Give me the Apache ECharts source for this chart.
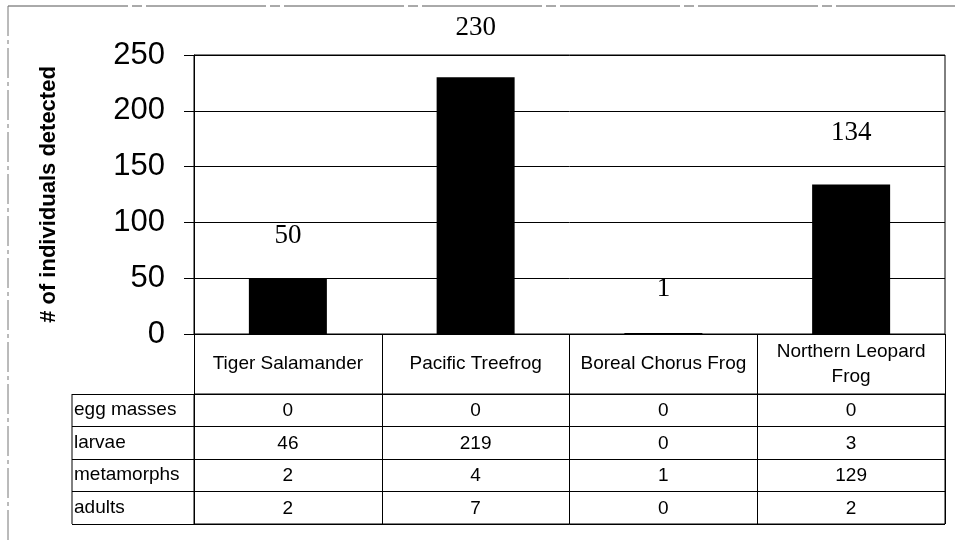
<!DOCTYPE html>
<html>
<head>
<meta charset="utf-8">
<script src="https://cdn.jsdelivr.net/npm/echarts@6/dist/echarts.min.js"></script>
<style>html,body{margin:0;padding:0;background:#fff}#c{width:955px;height:544px}</style>
</head>
<body>
<div id="c"></div>
<script>
const categories = ['Tiger Salamander', 'Pacific Treefrog', 'Boreal Chorus Frog', 'Northern Leopard\nFrog'];
const totals = [50, 230, 1, 134];
const rowNames = ['egg masses', 'larvae', 'metamorphs', 'adults'];
const eggMasses = [0, 0, 0, 0];
const larvae = [46, 219, 0, 3];
const metamorphs = [2, 4, 1, 129];
const adults = [2, 7, 0, 2];
const yMin = 0, yMax = 250, yStep = 50;
const labelGaps = [29, 36, 30, 38];

const tableRows = [eggMasses, larvae, metamorphs, adults];
const cells = [];
tableRows.forEach((row, r) => row.forEach((v, c) => cells.push([c, r, v])));

const chart = echarts.init(document.getElementById('c'), null, {renderer: 'canvas'});
chart.setOption({
  backgroundColor: '#fff',
  animation: false,
  grid: [
    {left: 194, right: 10, top: 55, height: 279, show: true, borderColor: '#000', borderWidth: 1},
    {left: 194, right: 10, top: 394, height: 130, show: true, borderColor: '#000', borderWidth: 1}
  ],
  xAxis: [
    {
      type: 'category', gridIndex: 0, data: categories,
      axisLine: {show: true, lineStyle: {color: '#000', width: 1}},
      axisTick: {show: true, length: 60, inside: false, lineStyle: {color: '#000'}},
      axisLabel: {color: '#000', fontFamily: 'Arial, Liberation Sans', fontSize: 19, margin: 30,
        verticalAlign: 'middle', lineHeight: 25, interval: 0},
      splitLine: {show: false}
    },
    {
      type: 'category', gridIndex: 1, data: categories, position: 'top',
      axisLine: {show: false}, axisTick: {show: false}, axisLabel: {show: false},
      splitLine: {show: true, lineStyle: {color: '#000', width: 1}}
    }
  ],
  yAxis: [
    {
      type: 'value', gridIndex: 0, min: yMin, max: yMax, interval: yStep,
      name: '# of individuals detected', nameLocation: 'middle', nameGap: 134,
      nameTextStyle: {color: '#000', fontFamily: 'Arial, Liberation Sans', fontWeight: 'bold', fontSize: 22},
      axisLine: {show: true, lineStyle: {color: '#000'}},
      axisTick: {show: true, length: 10, lineStyle: {color: '#000'}},
      axisLabel: {color: '#000', fontFamily: 'Arial, Liberation Sans', fontSize: 31, margin: 29},
      splitLine: {show: true, lineStyle: {color: '#000', width: 1}}
    },
    {
      type: 'category', gridIndex: 1, data: rowNames, inverse: true,
      axisLine: {show: true, lineStyle: {color: '#000'}},
      axisTick: {show: true, length: 122, lineStyle: {color: '#000'}},
      axisLabel: {color: '#000', fontFamily: 'Arial, Liberation Sans', fontSize: 19, margin: 120, align: 'left'},
      splitLine: {show: true, lineStyle: {color: '#000', width: 1}}
    }
  ],
  graphic: [
    {type: 'line', shape: {x1: 72, y1: 394, x2: 72, y2: 524}, style: {stroke: '#000', lineWidth: 1}},
    {type: 'line', shape: {x1: 8, y1: 6, x2: 955, y2: 6}, style: {stroke: '#555', lineWidth: 1, lineDash: [120, 4, 10, 4]}},
    {type: 'line', shape: {x1: 8, y1: 6, x2: 8, y2: 544}, style: {stroke: '#777', lineWidth: 1, lineDash: [30, 4, 4, 4]}}
  ],
  series: [
    {
      type: 'bar', xAxisIndex: 0, yAxisIndex: 0, barWidth: 78,
      itemStyle: {color: '#000'},
      data: totals.map((v, i) => ({value: v, label: {distance: labelGaps[i]}})),
      label: {show: true, position: 'top', color: '#000', fontFamily: 'Times New Roman, Liberation Serif, serif', fontSize: 27}
    },
    {
      type: 'custom', xAxisIndex: 1, yAxisIndex: 1, data: cells,
      renderItem: function (params, api) {
        const p = api.coord([api.value(0), api.value(1)]);
        return {type: 'text', x: p[0], y: p[1] + 1,
          style: {text: String(api.value(2)), align: 'center', verticalAlign: 'middle',
            font: '19px Arial, "Liberation Sans"', fill: '#000'}};
      }
    }
  ]
});
</script>
</body>
</html>
